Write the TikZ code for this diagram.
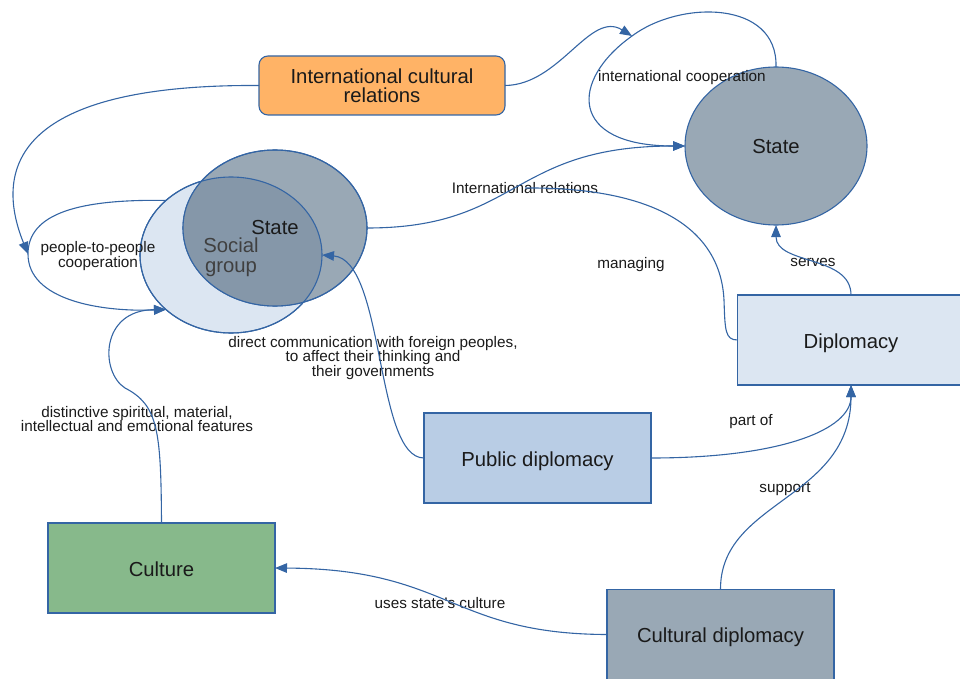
\documentclass[tikz,border=0pt]{standalone}
\usepackage{fontspec}
\setmainfont{Liberation Sans}
\usetikzlibrary{arrows.meta,shapes.geometric}

\definecolor{lineC}{HTML}{3465A4}
\definecolor{orangeF}{HTML}{FFB366}
\definecolor{grayF}{HTML}{99A8B5}
\definecolor{overlapF}{HTML}{8597A9}
\definecolor{lightF}{HTML}{DCE6F2}
\definecolor{pubF}{HTML}{B9CDE5}
\definecolor{greenF}{HTML}{87B98B}
\definecolor{txtC}{HTML}{1A1A1A}

\tikzset{
  boxtext/.style={font=\fontsize{20.3}{19.5}\selectfont, text=txtC, align=center},
  labtext/.style={font=\fontsize{15.3}{14.3}\selectfont, text=txtC, align=center, inner sep=0pt},
  blockbox/.style={draw=lineC, line width=1.1pt, minimum width=227pt, minimum height=90pt,
                   inner sep=0pt, outer sep=0pt, boxtext, text height=19pt, text depth=2.4pt},
  oval/.style={ellipse, draw=lineC, line width=1.1pt, inner sep=0pt, outer sep=0pt},
  conn/.style={draw=lineC, line width=1.1pt},
  arr/.style={conn, -{Triangle[length=12pt,width=9.5pt]}},
}

\begin{document}
\begin{tikzpicture}[x=1pt,y=-1pt]
\useasboundingbox (0,0) rectangle (960,679);
\clip (0,0) rectangle (960,679);

% --- shapes ---
\node[draw=lineC, line width=1.1pt, rounded corners=9pt, fill=orangeF, minimum width=246pt,
      minimum height=59pt, inner sep=0pt, outer sep=0pt, boxtext]
  (icr) at (382,85.5) {International cultural\\relations};

\node[oval, fill=grayF, minimum width=182pt, minimum height=158pt, boxtext,
      text height=17pt, text depth=2.4pt]
  (stR) at (776,146) {State};

% overlapping social group / state ellipses
\node[oval, fill=lightF, minimum width=182pt, minimum height=156pt] (soc) at (231,255) {};
\node[oval, fill=grayF, minimum width=184pt, minimum height=156pt] (stl) at (275,228) {};
\begin{scope}
  \clip (231,255) ellipse [x radius=91pt, y radius=78pt];
  \fill[overlapF] (275,228) ellipse [x radius=92pt, y radius=78pt];
\end{scope}
\draw[lineC, line width=1.1pt] (231,255) ellipse [x radius=91pt, y radius=78pt];
\draw[lineC, line width=1.1pt] (275,228) ellipse [x radius=92pt, y radius=78pt];
\node[boxtext] (stlT) at (275,228) {State};
\node[boxtext, text=black!75] (socT) at (231,257) {Social\\group};

\node[blockbox, fill=lightF] (dip) at (851,340) {Diplomacy};
\node[blockbox, fill=pubF] (pd) at (537.5,458) {Public diplomacy};
\node[blockbox, fill=greenF] (cul) at (161.5,568) {Culture};
\node[blockbox, fill=grayF] (cd) at (720.5,634.5) {Cultural diplomacy};

% --- connector labels ---
\node[labtext] (irl) at (525,188) {International relations};
\node[labtext] (icl) at (682,78) {international cooperation};
\node[labtext] (ppl) at (98,256) {people-to-people\\cooperation};
\node[labtext] (mgl) at (631,265) {managing};
\node[labtext] (svl) at (813,262) {serves};
\node[labtext] (dcl) at (373,358) {direct communication with foreign peoples,\\to affect their thinking and\\their governments};
\node[labtext] (pol) at (751,422) {part of};
\node[labtext] (spl) at (785,489) {support};
\node[labtext] (dsl) at (137,419) {distinctive spiritual, material,\\intellectual and emotional features};
\node[labtext] (usl) at (440,603) {uses state's culture};

% --- connectors ---
\coordinate (p2p) at (28,254);
\coordinate (icpt) at (632,36);

% people-to-people loop
\draw[arr] (soc.140) .. controls (80,199) and (28,213) .. (p2p)
           .. controls (28,300) and (100,312) .. (soc.220);
% international cooperation loop
\draw[arr] (stR.north) .. controls (778,0) and (680,0) .. (icpt)
           .. controls (570,80) and (568,146) .. (stR.west);
% international cultural relations feeds both loops
\draw[arr] (icr.west) .. controls (20,84) and (-8,165) .. (p2p);
\draw[arr] (icr.east) .. controls (560,85) and (590,10) .. (icpt);

% international relations
\draw[arr] (stl.east) .. controls (520,228) and (510,146) .. (stR.west);
% managing
\draw[conn] (dip.west) .. controls (725,340) and (725,330) .. (724,300)
            .. controls (720,220) and (640,187) .. (irl.center);
% serves
\draw[arr] (dip.north) .. controls (851,255) and (776,265) .. (stR.south);
% part of / support
\draw[arr] (pd.east) .. controls (780,458) and (851,430) .. (dip.south);
\draw[arr] (cd.north) .. controls (720,500) and (851,500) .. (dip.south);
% uses state's culture
\draw[arr] (cd.west) .. controls (450,634) and (450,569) .. (cul.east);
% direct communication
\draw[arr] (pd.west) .. controls (375,458) and (385,260) .. (soc.east);
% distinctive features
\draw[arr] (cul.north) .. controls (161,430) and (158,405) .. (125,388)
           .. controls (100,372) and (100,310) .. (soc.220);
\end{tikzpicture}
\end{document}
